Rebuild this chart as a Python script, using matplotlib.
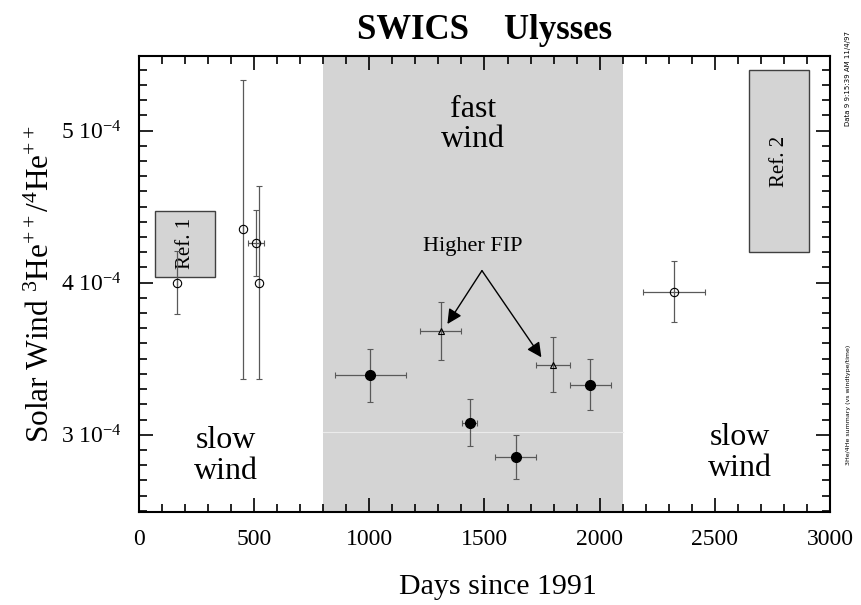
import matplotlib
matplotlib.use('Agg')
import matplotlib.pyplot as plt
from matplotlib.patches import Rectangle
from matplotlib.ticker import MultipleLocator, FixedLocator, FixedFormatter

plt.rcParams['font.family'] = ['Liberation Serif', 'DejaVu Serif']
plt.rcParams['mathtext.fontset'] = 'custom'
plt.rcParams['mathtext.rm'] = 'Liberation Serif'
plt.rcParams['mathtext.it'] = 'Liberation Serif:italic'

# slow wind points (open circles)
slow_days = [166, 451, 509, 519, 2322]
slow_ratio = [4.00e-4, 4.35e-4, 4.26e-4, 4.00e-4, 3.94e-4]
slow_yerr = [0.205e-4, 0.985e-4, 0.215e-4, 0.635e-4, 0.20e-4]
slow_xerr = [0, 0, 35, 0, 136]

# fast wind points (filled circles)
fast_days = [1004, 1436, 1635, 1960]
fast_ratio = [3.39e-4, 3.08e-4, 2.855e-4, 3.33e-4]
fast_yerr = [0.172e-4, 0.157e-4, 0.145e-4, 0.166e-4]
fast_xerr = [154, 33, 89, 90]

# higher FIP points (open triangles)
fip_days = [1310, 1798]
fip_ratio = [3.68e-4, 3.46e-4]
fip_yerr = [0.19e-4, 0.18e-4]
fip_xerr = [89, 74]

# reference boxes: (x0, x1, y0, y1)
ref1 = (70, 332, 4.04e-4, 4.47e-4)
ref2 = (2650, 2910, 4.20e-4, 5.40e-4)
fast_span = (800, 2100)

ytick_vals = [3e-4, 4e-4, 5e-4]
ytick_labels = [r'3 10$^{-4}$', r'4 10$^{-4}$', r'5 10$^{-4}$']

fig = plt.figure(figsize=(8.61, 6.05), dpi=100)
ax = fig.add_axes([0.1614, 0.1532, 0.8026, 0.7542])

ax.axvspan(fast_span[0], fast_span[1], color='0.83', lw=0, zorder=0)
ax.plot(fast_span, [3.02e-4, 3.02e-4], color='0.92', lw=0.8, zorder=0.5)

for r, txt in [(ref1, 'Ref. 1'), (ref2, 'Ref. 2')]:
    ax.add_patch(Rectangle((r[0], r[2]), r[1] - r[0], r[3] - r[2],
                           facecolor='0.83', edgecolor='0.25', lw=1, zorder=1))
    ax.text((r[0] + r[1]) / 2, (r[2] + r[3]) / 2, txt, rotation=90,
            ha='center', va='center', fontsize=15, zorder=2)

ebar = dict(ecolor='0.35', elinewidth=0.9, capsize=2, capthick=0.8, linestyle='none', zorder=3)
ax.errorbar(slow_days, slow_ratio, yerr=slow_yerr, xerr=slow_xerr, fmt='o',
            mfc='none', mec='black', mew=0.8, ms=6, **ebar)
ax.errorbar(fast_days, fast_ratio, yerr=fast_yerr, xerr=fast_xerr, fmt='o',
            mfc='black', mec='black', ms=7, **ebar)
ax.errorbar(fip_days, fip_ratio, yerr=fip_yerr, xerr=fip_xerr, fmt='^',
            mfc='none', mec='black', mew=0.8, ms=5, **ebar)

ax.text(1450, 4.237e-4, 'Higher FIP', ha='center', va='center', fontsize=16)
for end in [(1339, 3.728e-4), (1747, 3.509e-4)]:
    ax.annotate('', xy=end, xytext=(1489, 4.079e-4),
                arrowprops=dict(arrowstyle='-|>', color='black', lw=1,
                                mutation_scale=22, shrinkA=0, shrinkB=0))

wind_font = dict(ha='center', va='center', fontsize=23, linespacing=1.05)
ax.text(1450, 5.04e-4, 'fast\nwind', **wind_font)
ax.text(379, 2.86e-4, 'slow\nwind', **wind_font)
ax.text(2609, 2.88e-4, 'slow\nwind', **wind_font)

ax.set_xlim(0, 3000)
ax.set_ylim(2.49e-4, 5.49e-4)
ax.xaxis.set_major_locator(MultipleLocator(500))
ax.xaxis.set_minor_locator(MultipleLocator(100))
ax.yaxis.set_major_locator(FixedLocator(ytick_vals))
ax.yaxis.set_major_formatter(FixedFormatter(ytick_labels))
ax.yaxis.set_minor_locator(MultipleLocator(0.1e-4))
ax.tick_params(which='both', direction='in', top=True, right=True, width=1.2)
ax.tick_params(which='major', length=10, labelsize=17, pad=12)
ax.tick_params(which='minor', length=5.5)
for s in ax.spines.values():
    s.set_linewidth(1.5)

ax.set_xlabel('Days since 1991', fontsize=21.5)
ax.xaxis.set_label_coords(0.52, -0.135)
ax.set_ylabel(r'Solar Wind $^{3}$He$^{++}$/$^{4}$He$^{++}$', fontsize=22.5, labelpad=4)
ax.set_title('SWICS    Ulysses', fontsize=25, fontweight='bold', pad=12)

fig.text(0.985, 0.87, 'Data 9 9:15:39 AM 11/4/97', rotation=90, fontsize=5,
         family='DejaVu Sans', ha='center', va='center')
fig.text(0.985, 0.33, '3He/4He summary (vs windtype/time)', rotation=90, fontsize=4.5,
         family='DejaVu Sans', ha='center', va='center')

fig.savefig('out.png', dpi=100)
